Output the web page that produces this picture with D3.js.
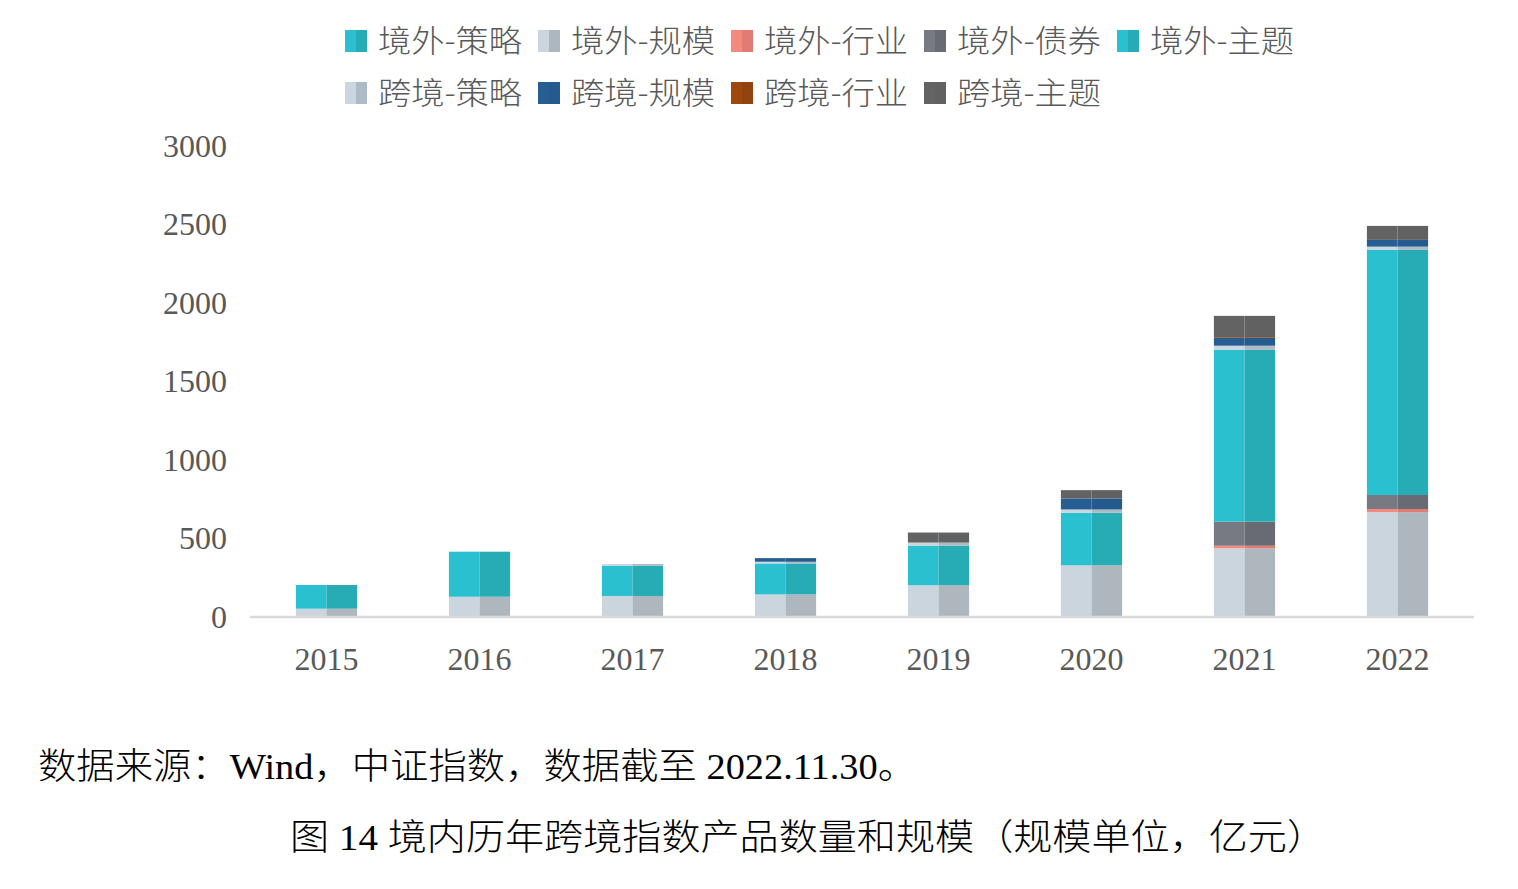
<!DOCTYPE html>
<html>
<head>
<meta charset="utf-8">
<script src="https://cdn.jsdelivr.net/npm/d3@7/dist/d3.min.js"></script>
<style>
  html, body { margin: 0; padding: 0; background: #fff; }
  svg { display: block; }
</style>
</head>
<body>
<svg id="chart" width="1518" height="889"></svg>
<script>
const years = ['2015', '2016', '2017', '2018', '2019', '2020', '2021', '2022'];
const seriesNames = ['境外-策略', '境外-规模', '境外-行业', '境外-债券', '境外-主题',
                     '跨境-策略', '跨境-规模', '跨境-行业', '跨境-主题'];
const jwCelue   = [0, 0, 0, 0, 0, 0, 0, 0];
const jwGuimo   = [53, 129, 134, 144, 202, 329, 437, 668];
const jwHangye  = [0, 0, 0, 0, 0, 0, 17, 20];
const jwZhaiquan= [0, 0, 0, 0, 0, 0, 153, 89];
const jwZhuti   = [151, 287, 193, 197, 253, 335, 1094, 1561];
const kjCelue   = [0, 0, 11, 11, 19, 21, 27, 21];
const kjGuimo   = [0, 0, 0, 23, 0, 70, 49, 43];
const kjHangye  = [0, 0, 0, 0, 0, 0, 5, 0];
const kjZhuti   = [0, 0, 0, 0, 64, 53, 136, 89];
const yTicks = [0, 500, 1000, 1500, 2000, 2500, 3000];

const seriesValues = [jwCelue, jwGuimo, jwHangye, jwZhaiquan, jwZhuti, kjCelue, kjGuimo, kjHangye, kjZhuti];
const colorsLeft  = ['#2AC0D0', '#CBD5DD', '#F4897E', '#777A83', '#2AC0D0', '#CAD6E0', '#265E93', '#9E480E', '#636363'];
const colorsRight = ['#27ABB5', '#AEB7BE', '#E27B71', '#686B72', '#27ABB5', '#AEBAC4', '#245A8D', '#93430D', '#616161'];

const table = years.map((y, i) => {
  const row = { year: y };
  seriesNames.forEach((s, k) => row[s] = seriesValues[k][i]);
  return row;
});

const svg = d3.select('#chart');
const x = d3.scaleBand().domain(years).range([250, 1474]).paddingInner(0.6).paddingOuter(0.3);
const y = d3.scaleLinear().domain([0, 3000]).range([617, 146]);

const layers = d3.stack().keys(seriesNames)(table);

const g = svg.append('g');
layers.forEach((layer, k) => {
  const lg = g.append('g');
  lg.selectAll('rect.l').data(layer).join('rect')
    .attr('x', d => x(d.data.year))
    .attr('width', x.bandwidth() / 2)
    .attr('y', d => y(d[1]))
    .attr('height', d => Math.max(0, y(d[0]) - y(d[1])))
    .attr('fill', colorsLeft[k]);
  lg.selectAll('rect.r').data(layer).join('rect')
    .attr('x', d => x(d.data.year) + x.bandwidth() / 2)
    .attr('width', x.bandwidth() / 2)
    .attr('y', d => y(d[1]))
    .attr('height', d => Math.max(0, y(d[0]) - y(d[1])))
    .attr('fill', colorsRight[k]);
});

// x axis
const xAxis = svg.append('g').attr('transform', 'translate(0,617)')
  .call(d3.axisBottom(x).tickSize(0).tickPadding(30));
xAxis.select('.domain').attr('stroke', '#D9D9D9').attr('stroke-width', 2.5)
  .attr('d', 'M250,0H1474');
xAxis.selectAll('text')
  .attr('font-family', '"Liberation Serif", "Times New Roman", serif')
  .attr('font-size', 32).attr('fill', '#595959').attr('dy', '0.71em');

// y axis
const yAxis = svg.append('g').attr('transform', 'translate(250,0)')
  .call(d3.axisLeft(y).tickValues(yTicks).tickSize(0).tickPadding(23).tickFormat(d3.format('d')));
yAxis.select('.domain').remove();
yAxis.selectAll('text')
  .attr('font-family', '"Liberation Serif", "Times New Roman", serif')
  .attr('font-size', 32).attr('fill', '#595959');

// legend
const legendPos = [
  [345, 41], [538, 41], [731, 41], [924, 41], [1117, 41],
  [345, 93], [538, 93], [731, 93], [924, 93]
];
seriesNames.forEach((s, k) => {
  const [lx, ly] = legendPos[k];
  const lg = svg.append('g').attr('transform', `translate(${lx},${ly})`);
  lg.append('rect').attr('x', 0).attr('y', -11).attr('width', 11).attr('height', 22).attr('fill', colorsLeft[k]);
  lg.append('rect').attr('x', 11).attr('y', -11).attr('width', 11).attr('height', 22).attr('fill', colorsRight[k]);
  lg.append('text').attr('x', 33).attr('y', 0).attr('dy', '0.35em')
    .attr('font-family', '"Noto Sans CJK SC", sans-serif')
    .attr('font-weight', 300)
    .attr('font-size', 31).attr('fill', '#595959')
    .attr('textLength', 144).attr('lengthAdjust', 'spacingAndGlyphs')
    .text(s);
});

// source note
svg.append('text').attr('x', 38).attr('y', 779)
  .attr('font-family', '"Liberation Serif", "Noto Sans CJK SC", serif')
  .attr('font-weight', 300)
  .attr('font-size', 36).attr('fill', '#000')
  .attr('textLength', 878).attr('lengthAdjust', 'spacingAndGlyphs')
  .text('数据来源：Wind，中证指数，数据截至 2022.11.30。');

// caption
svg.append('text').attr('x', 290).attr('y', 850)
  .attr('font-family', '"Liberation Serif", "Noto Sans CJK SC", serif')
  .attr('font-weight', 300)
  .attr('font-size', 36).attr('fill', '#000')
  .attr('textLength', 1036).attr('lengthAdjust', 'spacingAndGlyphs')
  .text('图 14  境内历年跨境指数产品数量和规模（规模单位，亿元）');
</script>
</body>
</html>
